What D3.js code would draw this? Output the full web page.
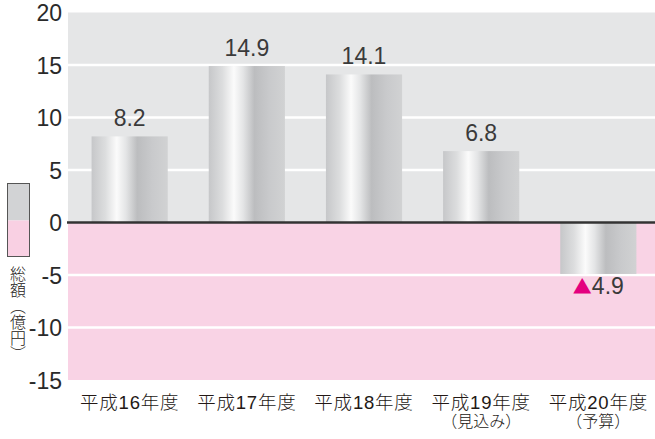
<!DOCTYPE html>
<html><head><meta charset="utf-8">
<script src="https://cdn.jsdelivr.net/npm/d3@7"></script>
<style>
html,body{margin:0;padding:0;background:#fff;}
svg{display:block;}
</style></head>
<body>
<svg id="chart" width="655" height="439"></svg>
<script>
const categories = ["平成16年度","平成17年度","平成18年度","平成19年度","平成20年度"];
const subLabels = ["","","","（見込み）","（予算）"];
const values = [8.2, 14.9, 14.1, 6.8, -4.9];
const yTicks = [20, 15, 10, 5, 0, -5, -10, -15];
const yAxisTitle = "総額（億円）";

const W = 655, H = 439;
const plot = {left: 68, right: 655, top: 12.5, bottom: 380};
const svg = d3.select("#chart");
const latin = "'Liberation Sans', Arial, 'Noto Sans CJK JP', sans-serif";
const cjk = "'Liberation Sans', 'Noto Sans CJK JP', sans-serif";

const y = d3.scaleLinear().domain([-15, 20]).range([plot.bottom, plot.top]);
const x = d3.scaleBand().domain(categories).range([plot.left + 2.5, plot.right + 2.5]).paddingInner(0.35).paddingOuter(0.18);

// gradient
const defs = svg.append("defs");
const g = defs.append("linearGradient").attr("id","barGrad").attr("x1","0").attr("x2","1").attr("y1","0").attr("y2","0");
[[0,"#c6c7c9"],[0.18,"#dcddde"],[0.33,"#fbfbfb"],[0.45,"#e4e5e6"],[0.6,"#bcbdbf"],[0.8,"#c9cacc"],[1,"#d1d2d3"]]
  .forEach(([o,c]) => g.append("stop").attr("offset", o).attr("stop-color", c));

// backgrounds
svg.append("rect").attr("x", plot.left).attr("y", y(20)).attr("width", plot.right - plot.left)
  .attr("height", y(0) - y(20)).attr("fill", "#e5e6e7");
svg.append("rect").attr("x", plot.left).attr("y", y(0)).attr("width", plot.right - plot.left)
  .attr("height", y(-15) - y(0)).attr("fill", "#f9d3e5");

// grid lines
svg.append("g").selectAll("line").data(yTicks.filter(t => t !== 0 && t !== 20 && t !== -15)).join("line")
  .attr("x1", plot.left).attr("x2", plot.right)
  .attr("y1", d => y(d)).attr("y2", d => y(d))
  .attr("stroke", "#fff").attr("stroke-width", 2.5);

// y axis labels
const yAxis = d3.axisLeft(y).tickValues(yTicks).tickSize(0).tickPadding(6).tickFormat(d => String(d));
const ya = svg.append("g").attr("transform", `translate(${plot.left},0)`).call(yAxis);
ya.select(".domain").remove();
ya.selectAll("text").attr("font-family", latin).attr("font-size", 23).attr("fill", "#2a2a2a").attr("dy", "0.36em");

// bars
svg.append("g").selectAll("rect").data(values).join("rect")
  .attr("x", (d,i) => x(categories[i]))
  .attr("width", x.bandwidth())
  .attr("y", d => y(Math.max(0, d)))
  .attr("height", d => Math.abs(y(d) - y(0)))
  .attr("fill", "url(#barGrad)");

// zero line
svg.append("line").attr("x1", plot.left - 1).attr("x2", plot.right)
  .attr("y1", y(0)).attr("y2", y(0)).attr("stroke", "#333").attr("stroke-width", 2.5);

// value labels
const vl = svg.append("g").selectAll("text").data(values).join("text")
  .attr("x", (d,i) => x(categories[i]) + x.bandwidth()/2)
  .attr("y", d => d >= 0 ? y(d) - 10 : y(d) + 20)
  .attr("text-anchor", "middle")
  .attr("font-family", latin).attr("font-size", 23).attr("fill", "#3a3a3a");
vl.each(function(d){
  const t = d3.select(this);
  if (d >= 0) { t.text(d3.format(".1f")(d)); }
  else {
    t.append("tspan").attr("fill", "#e4007f").attr("font-family", "'Noto Sans CJK JP', sans-serif").attr("font-size", 19).text("▲");
    t.append("tspan").text(d3.format(".1f")(-d));
  }
});

// x labels
const xl = svg.append("g");
xl.selectAll("text.cat").data(categories).join("text").attr("class","cat")
  .attr("x", d => x(d) + x.bandwidth()/2).attr("y", 409)
  .attr("text-anchor", "middle").attr("font-family", cjk).attr("font-size", 18.5).attr("font-weight", 300)
  .attr("letter-spacing", 0.8).attr("fill", "#231815").text(d => d);
xl.selectAll("text.sub").data(subLabels).join("text").attr("class","sub")
  .attr("x", (d,i) => x(categories[i]) + x.bandwidth()/2).attr("y", 427)
  .attr("text-anchor", "middle").attr("font-family", cjk).attr("font-size", 16).attr("font-weight", 300)
  .attr("fill", "#231815").text(d => d);

// legend box
svg.append("rect").attr("x", 7.5).attr("y", 183.5).attr("width", 22).attr("height", 37).attr("fill", "#d2d3d5");
svg.append("rect").attr("x", 7.5).attr("y", 220.5).attr("width", 22).attr("height", 36).attr("fill", "#f9d0e3");
svg.append("rect").attr("x", 7.5).attr("y", 183.5).attr("width", 22).attr("height", 73)
  .attr("fill", "none").attr("stroke", "#555").attr("stroke-width", 1);

// vertical title
svg.append("text").attr("x", 18).attr("y", 266)
  .attr("style", "writing-mode: vertical-rl; text-orientation: mixed;")
  .attr("font-family", "'Noto Sans CJK JP', sans-serif").attr("font-size", 16).attr("font-weight", 300).attr("fill", "#231815")
  .text(yAxisTitle);
</script>
</body></html>
